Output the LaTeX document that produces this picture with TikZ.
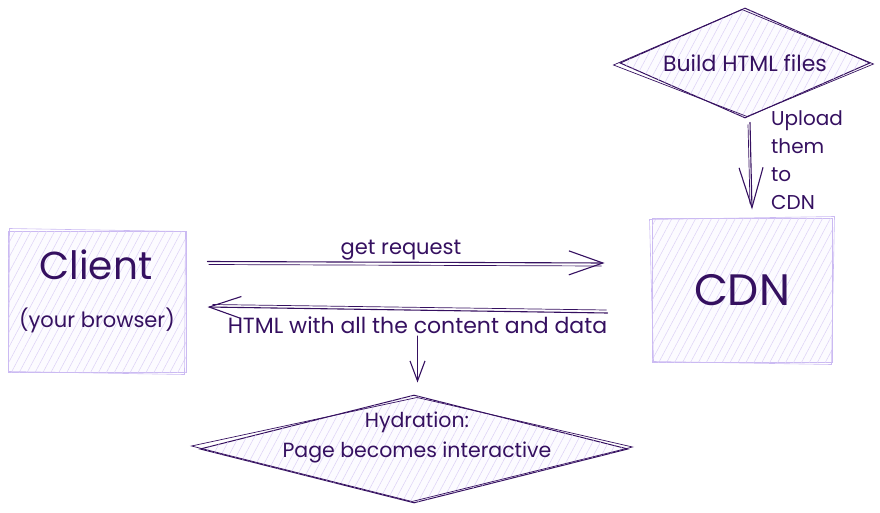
\documentclass[tikz,border=0pt]{standalone}
\usepackage{fontspec}
\setmainfont{Poppins}
\usetikzlibrary{shapes.geometric,arrows.meta,patterns.meta,calc}
\definecolor{ink}{HTML}{351060}
\definecolor{lav}{HTML}{CBBAF2}
\definecolor{hatch}{HTML}{DCD0F6}
\definecolor{paper}{HTML}{FCFBFF}
\begin{document}
\begin{tikzpicture}[x=1pt,y=-1pt,
  hatchfill/.style={fill=paper, postaction={pattern={Lines[angle=62,distance=7pt,line width=0.5pt]}, pattern color=hatch}},
  boxst/.style={rectangle, draw=lav, line width=1pt, hatchfill, text=ink, inner sep=0pt},
  diam/.style={diamond, draw=ink, line width=1pt, hatchfill, text=ink, inner sep=0pt},
  rough/.style={draw=ink, line width=0.7pt},
  arr/.style={draw=ink, line width=1.1pt, line cap=round},
  lbl/.style={text=ink, inner sep=1pt},
  big/.style={font=\fontsize{39}{40}\selectfont},
  huge/.style={font=\fontsize{44}{46}\selectfont},
  mid/.style={font=\fontsize{20}{24}\selectfont},
  sm/.style={font=\fontsize{21}{24}\selectfont}
]
\useasboundingbox (0,0) rectangle (880,513);

% boxes
\node[boxst, minimum width=178pt, minimum height=141pt] (client) at (97,301.5) {};
\draw[draw=lav, line width=0.6pt] ($(client.north west)+(2,-2)$) -- ($(client.north east)+(-1,1)$) -- ($(client.south east)+(-2,2)$) -- ($(client.south west)+(1,-1)$) -- cycle;
\node[lbl, big] (clientlbl) at (96,265) {Client};
\node[lbl, font=\fontsize{21}{24}\selectfont] (browserlbl) at (97,320) {(your browser)};

\node[boxst, minimum width=180pt, minimum height=144pt, huge] (cdn) at (742,290) {CDN};
\draw[draw=lav, line width=0.6pt] ($(cdn.north west)+(-2,2)$) -- ($(cdn.north east)+(2,-1)$) -- ($(cdn.south east)+(-1,2)$) -- ($(cdn.south west)+(2,-1)$) -- cycle;

% diamonds
\node[diam, minimum width=250pt, minimum height=110pt, shape aspect=2.3, font=\fontsize{22}{24}\selectfont] (build) at (745,63) {Build HTML files};
\draw[rough] ($(build.north)+(-3,2)$) -- ($(build.east)+(3,1)$) -- ($(build.south)+(2,-2)$) -- ($(build.west)+(-6,2)$) -- cycle;

\node[diam, minimum width=428pt, minimum height=108pt] (hydr) at (414,449) {};
\draw[rough] ($(hydr.north)+(3,3)$) -- ($(hydr.east)+(4,-2)$) -- ($(hydr.south)+(-2,-2)$) -- ($(hydr.west)+(-8,-3)$) -- cycle;
\node[lbl, font=\fontsize{20.5}{24}\selectfont, align=center] (hydrlbl) at (417,437) {Hydration:\\[6pt]Page becomes interactive};

% upload arrow
\draw[arr, -{Straight Barb[length=40pt,width=24pt,line width=1.1pt]}] ($(build.south)+(5,4)$) -- ($(cdn.north)+(10,-8)$);
\draw[rough] ($(build.south)+(3,6)$) -- ($(cdn.north)+(8,-14)$);
\node[lbl, mid, align=left, anchor=west] (uplbl) at (770,160) {Upload\\[4pt]them\\[4pt]to\\[4pt]CDN};

% get request
\draw[arr, -{Straight Barb[length=34pt,width=24pt,line width=1.1pt]}] ($(client.east)+(21,-40)$) -- ($(cdn.west)+(-47,-27)$)
  node[lbl, sm, midway, above=1pt, xshift=-5pt] (getlbl) {get request};
\draw[rough] ($(client.east)+(22,-37)$) -- ($(cdn.west)+(-50,-24)$);

% HTML response
\draw[arr, -{Straight Barb[length=32pt,width=22pt,line width=1.1pt]}] ($(cdn.west)+(-44,23)$) -- ($(client.east)+(21,5.5)$)
  node[lbl, font=\fontsize{22}{24}\selectfont, midway, below=5pt, xshift=10pt] (htmllbl) {HTML with all the content and data};
\draw[rough] ($(cdn.west)+(-45,20)$) -- ($(client.east)+(26,3)$);

% to hydration
\coordinate (hs) at ($(htmllbl.south)+(0,1)$);
\draw[arr, shorten >=12pt, -{Straight Barb[length=20pt,width=15pt,line width=1.1pt]}] (hs) -- (hs |- hydr.north);
\end{tikzpicture}
\end{document}
